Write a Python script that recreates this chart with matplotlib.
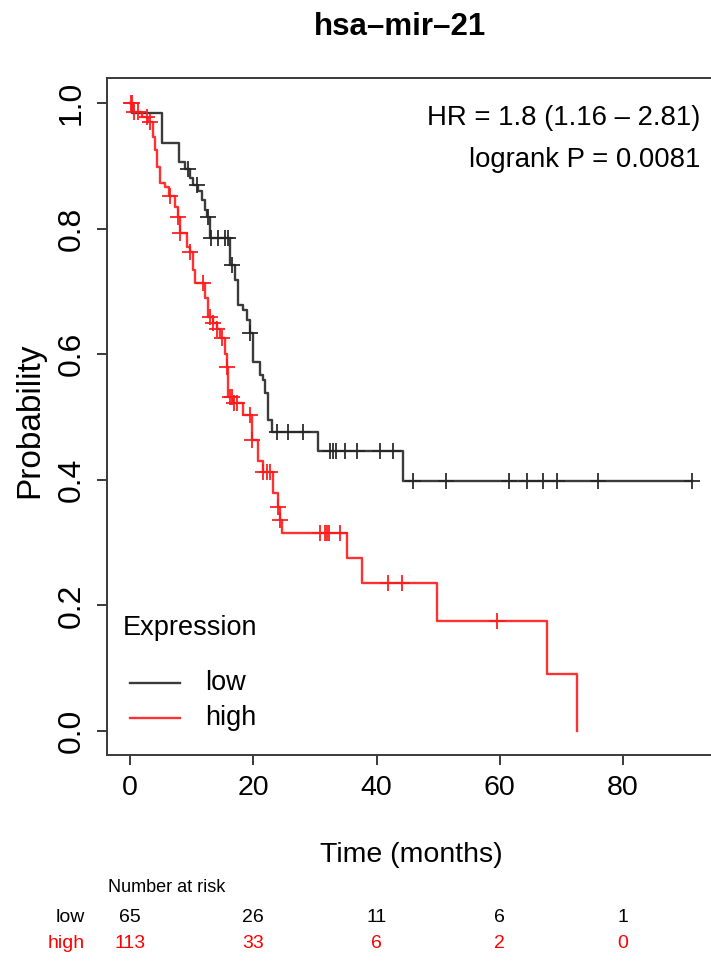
import matplotlib
matplotlib.use("Agg")
import matplotlib.pyplot as plt
import numpy as np
from matplotlib.lines import Line2D
from matplotlib.transforms import blended_transform_factory

# fonts: the reference looks like a condensed Helvetica, narrow Liberation is the closest
NARROW = ["Liberation Sans Narrow", "Liberation Sans", "DejaVu Sans"]
REGULAR = ["Liberation Sans", "DejaVu Sans"]
plt.rcParams["font.family"] = NARROW

# ---------------------------------------------------------------- data
TITLE = "hsa–mir–21"
HR_TEXT = "HR = 1.8 (1.16 – 2.81)"
P_TEXT = "logrank P = 0.0081"
GROUPS = ["low", "high"]

# low expression: event times (months) and survival after each step
low_times = [0.3, 5.2, 8.0, 8.9, 9.7, 10.2, 11.0, 11.7, 12.2, 12.5, 13.0,
             16.2, 17.0, 17.5, 18.3, 19.0, 19.4, 20.0, 21.1, 21.6, 21.9,
             22.4, 23.0, 30.5, 44.3]
low_surv = [0.984, 0.936, 0.906, 0.895, 0.880, 0.870, 0.860, 0.845, 0.830,
            0.818, 0.785, 0.742, 0.718, 0.678, 0.670, 0.654, 0.634, 0.588,
            0.567, 0.559, 0.538, 0.495, 0.476, 0.446, 0.398]
low_censor = [9.4, 10.9, 12.7, 13.1, 14.3, 15.4, 15.9, 16.6, 19.5, 23.9,
              25.6, 28.1, 32.5, 32.9, 33.4, 34.9, 36.8, 40.6, 42.7, 45.9,
              51.3, 61.5, 64.4, 67.0, 69.3, 75.9, 91.2]

# high expression
high_times = [0.5, 1.9, 3.0, 3.7, 4.0, 4.4, 4.9, 5.7, 6.3, 7.3, 7.8, 8.1,
              9.2, 9.7, 10.2, 10.5, 12.2, 12.7, 13.5, 14.1, 14.6, 15.4,
              15.7, 15.9, 16.7, 18.3, 19.8, 20.8, 21.6, 23.2, 24.0, 24.3,
              24.7, 35.2, 37.6, 49.8, 67.7, 72.5]
high_surv = [0.986, 0.978, 0.970, 0.946, 0.925, 0.898, 0.873, 0.866, 0.852,
             0.835, 0.818, 0.793, 0.771, 0.763, 0.734, 0.713, 0.690, 0.660,
             0.650, 0.640, 0.626, 0.600, 0.580, 0.532, 0.522, 0.503, 0.463,
             0.430, 0.412, 0.379, 0.357, 0.336, 0.315, 0.275, 0.236, 0.175,
             0.091, 0.0]
high_censor = [0.1, 0.4, 0.6, 1.3, 2.8, 3.3, 6.5, 7.8, 8.1, 9.7, 11.8, 13.0,
               13.5, 14.1, 14.9, 15.7, 16.2, 16.5, 16.9, 17.4, 19.5, 19.8,
               21.6, 22.2, 22.7, 24.0, 24.3, 30.8, 31.6, 32.0, 32.3, 34.0,
               41.9, 44.1, 59.6]

# number at risk table
risk_times = [0, 20, 40, 60, 80]
low_at_risk = [65, 26, 11, 6, 1]
high_at_risk = [113, 33, 6, 2, 0]

y_ticks = [0.0, 0.2, 0.4, 0.6, 0.8, 1.0]

LOW_COLOR = "#262626"
HIGH_COLOR = "#ff1a1a"
AXIS_COLOR = "#3a3a3a"

W, H = 711, 961


def fx(x):
    return x / W


def fy(y):
    return 1 - y / H


def draw_km(ax, times, surv, censor, color):
    t = np.concatenate([[0.0], times])
    s = np.concatenate([[1.0], surv])
    end = max(censor)
    if end > t[-1]:
        t = np.append(t, end)
        s = np.append(s, s[-1])
    ax.step(t, s, where="post", color=color, lw=1.7, alpha=0.9)
    # censor marks sit on the curve
    idx = np.searchsorted(times, censor, side="right") - 1
    cs = np.where(idx >= 0, np.asarray(surv)[np.clip(idx, 0, None)], 1.0)
    ax.plot(censor, cs, ls="none", marker="+", ms=12, mew=1.4,
            color=color, alpha=0.9)


fig = plt.figure(figsize=(7.11, 9.61), dpi=100)
ax = fig.add_axes([fx(107), fy(755), fx(713) - fx(107), fy(78) - fy(755)])
ax.set_xlim(-3.73, 94.6)
ax.set_ylim(-0.0382, 1.0398)

draw_km(ax, low_times, low_surv, low_censor, LOW_COLOR)
draw_km(ax, high_times, high_surv, high_censor, HIGH_COLOR)

for sp in ax.spines.values():
    sp.set_color(AXIS_COLOR)
    sp.set_linewidth(1.4)
ax.set_xticks(risk_times)
ax.set_yticks(y_ticks)
ax.set_yticklabels([f"{v:.1f}" for v in y_ticks])
ax.tick_params(direction="out", length=7.5, width=1.4, color=AXIS_COLOR,
               labelsize=20.5, pad=7)
ax.tick_params(axis="y", labelrotation=90, pad=7)
for lab in ax.get_yticklabels():
    lab.set_va("center")
    lab.set_family(REGULAR)
    lab.set_fontsize(23)

# titles and axis labels
fig.text(fx(400), fy(27), TITLE, ha="center", va="center", fontsize=22.5,
         fontweight="bold")
fig.text(fx(30), fy(420), "Probability", rotation=90, ha="center",
         va="center", fontsize=24, family=REGULAR)
fig.text(fx(411), fy(855), "Time (months)", ha="center", va="center",
         fontsize=20.5)
fig.text(fx(700), fy(118), HR_TEXT, ha="right", va="center", fontsize=19.8)
fig.text(fx(700), fy(160), P_TEXT, ha="right", va="center", fontsize=19.8)

# legend drawn by hand, R style without frame
fig.text(fx(123), fy(628), "Expression", ha="left", va="center", fontsize=19.5)
for name, color, ypix in zip(GROUPS, [LOW_COLOR, HIGH_COLOR], [683, 718]):
    fig.add_artist(Line2D([fx(130), fx(180)], [fy(ypix), fy(ypix)],
                          color=color, lw=1.7, alpha=0.9))
    fig.text(fx(205), fy(ypix), name, ha="left", va="center", fontsize=19.5)

# number at risk table
trans = blended_transform_factory(ax.transData, fig.transFigure)
fig.text(fx(108), fy(888), "Number at risk", ha="left", va="center",
         fontsize=13)
rows = [(GROUPS[0], low_at_risk, "black", 917),
        (GROUPS[1], high_at_risk, "#ff0000", 943)]
for name, counts, color, ypix in rows:
    fig.text(fx(85), fy(ypix), name, ha="right", va="center", fontsize=14,
             color=color)
    for t, n in zip(risk_times, counts):
        ax.text(t, fy(ypix), str(n), transform=trans, ha="center",
                va="center", fontsize=14, color=color, clip_on=False)

fig.savefig("out.png", dpi=100)
